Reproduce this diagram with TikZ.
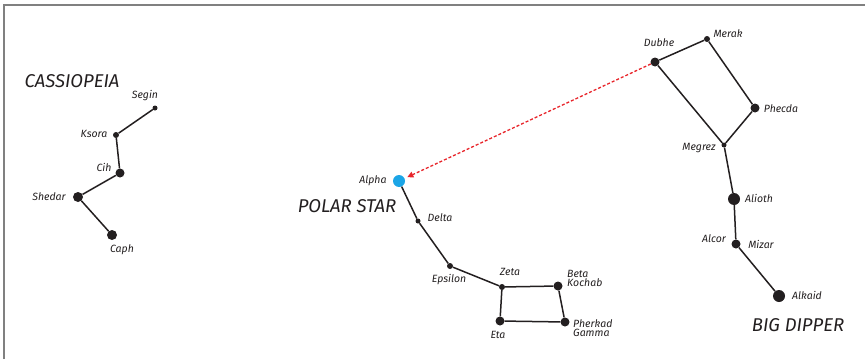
\documentclass[tikz,border=0pt]{standalone}
\usepackage{fontspec}
\setmainfont{Fira Sans}
\usetikzlibrary{arrows.meta}
\definecolor{ink}{HTML}{231F20}
\definecolor{polar}{HTML}{1BA5E6}
\definecolor{arrowred}{HTML}{E8252B}
\definecolor{framegray}{HTML}{808080}
\tikzset{
  star/.style={circle,fill=ink,draw=none,inner sep=0pt,minimum size=#1},
  star/.default=6pt,
  lab/.style={font=\itshape\fontsize{10.5}{11}\selectfont,text=ink,inner sep=0pt,align=left},
  title/.style={font=\itshape\fontsize{18.5}{20}\selectfont,text=ink,inner sep=0pt},
  link/.style={draw=ink,line width=1.5pt},
}
\begin{document}
\begin{tikzpicture}[x=1pt,y=-1pt]
\useasboundingbox (0,0) rectangle (865,359);
\draw[framegray,line width=1.6pt] (4,359) -- (4,5) -- (865,5);

% Cassiopeia
\node[title] (tcas) at (72,81) {CASSIOPEIA};
\node[star=5pt] (segin) at (155,108) {};
\node[star=6pt] (ksora) at (116,135) {};
\node[star=9pt] (cih) at (120,173) {};
\node[star=10pt] (shedar) at (78,197) {};
\node[star=10pt] (caph) at (112,235) {};
\node[lab] (lsegin) at (145,96) {Segin};
\node[lab] (lksora) at (94,134) {Ksora};
\node[lab] (lcih) at (104,167) {Cih};
\node[lab] (lshedar) at (49,197) {Shedar};
\node[lab] (lcaph) at (122,250) {Caph};
\draw[link] (segin) -- (ksora) -- (cih) -- (shedar) -- (caph);

% Little dipper
\node[title] (tpolar) at (347,206) {POLAR STAR};
\node[circle,fill=polar,inner sep=0pt,minimum size=12pt] (alpha) at (399,181) {};
\node[star=5pt] (delta) at (418,221) {};
\node[star=6pt] (epsilon) at (450,266) {};
\node[star=6pt] (zeta) at (502,287) {};
\node[star=9pt] (beta) at (558,286) {};
\node[star=9pt] (eta) at (500,321) {};
\node[star=9pt] (pherkad) at (565,322) {};
\node[lab] (lalpha) at (373,181) {Alpha};
\node[lab] (ldelta) at (440,218) {Delta};
\node[lab] (lepsilon) at (449,280) {Epsilon};
\node[lab] (lzeta) at (510,272) {Zeta};
\node[lab,anchor=west] (lbeta) at (567,278) {Beta\\[-2pt]Kochab};
\node[lab,anchor=west] (lpherkad) at (573,328) {Pherkad\\[-2pt]Gamma};
\node[lab] (leta) at (498,335) {Eta};
\draw[link] (alpha) -- (delta) -- (epsilon) -- (zeta) -- (beta) -- (pherkad) -- (eta) -- (zeta);

% Big dipper
\node[title] (tbig) at (798,325) {BIG DIPPER};
\node[star=9pt] (dubhe) at (655,62) {};
\node[star=6pt] (merak) at (707,39) {};
\node[star=9pt] (phecda) at (755,108) {};
\node[star=5pt] (megrez) at (724,145) {};
\node[star=12pt] (alioth) at (734,199) {};
\node[star=9pt] (mizar) at (736,244) {};
\node[star=12pt] (alkaid) at (779,296) {};
\node[lab] (ldubhe) at (659,43) {Dubhe};
\node[lab] (lmerak) at (728,34) {Merak};
\node[lab] (lphecda) at (781,109) {Phecda};
\node[lab] (lmegrez) at (699,148) {Megrez};
\node[lab] (lalioth) at (759,198) {Alioth};
\node[lab] (lmizar) at (761,244) {Mizar};
\node[lab] (lalcor) at (714,239) {Alcor};
\node[lab] (lalkaid) at (807,295) {Alkaid};
\draw[link] (dubhe) -- (merak) -- (phecda) -- (megrez) -- (dubhe);
\draw[link] (megrez) -- (alioth) -- (mizar) -- (alkaid);

% pointer arrow
\draw[arrowred,line width=1.3pt,dash pattern=on 3pt off 2pt,shorten >=3pt,
  -{Triangle[length=6pt,width=6pt]}] (dubhe) -- (alpha);
\end{tikzpicture}
\end{document}
